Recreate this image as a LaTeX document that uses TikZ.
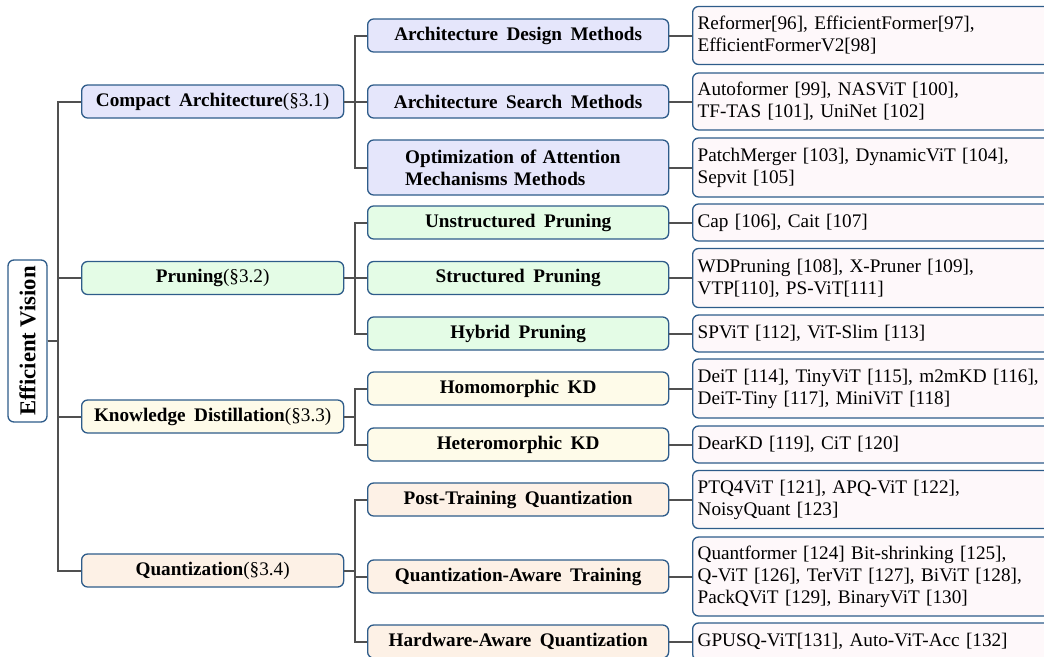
\documentclass[tikz,border=0pt]{standalone}
\usepackage{fontspec}
\setmainfont{Liberation Serif}
\usepackage{graphicx}
\definecolor{bordc}{RGB}{46,92,138}
\definecolor{connc}{RGB}{80,80,80}
\definecolor{cA}{RGB}{229,230,251}
\definecolor{cP}{RGB}{228,252,230}
\definecolor{cK}{RGB}{254,251,233}
\definecolor{cQ}{RGB}{253,241,230}
\definecolor{leafc}{RGB}{254,248,250}
\newcommand{\wsp}{\spaceskip=8.5pt plus 1pt minus 1pt\relax}
\tikzset{
  box/.style={draw=bordc, line width=1.3pt, rounded corners=6pt, inner sep=0pt},
  lone/.style={box, anchor=west, minimum width=262pt, minimum height=33pt, align=center, font=\fontsize{19.2}{22}\selectfont\wsp},
  ltwo/.style={box, anchor=west, minimum width=301pt, minimum height=33pt, align=center, font=\fontsize{19.2}{22}\selectfont\bfseries\wsp},
  leaf/.style={box, anchor=west, fill=leafc, text width=420pt, inner xsep=5pt, align=left, minimum height=37pt, font=\fontsize{19.2}{22}\selectfont},
  conn/.style={draw=connc, line width=2pt},
}
\begin{document}
\begin{tikzpicture}[x=1pt,y=-1pt]
\useasboundingbox (0,0) rectangle (1044,656);
% root
\node[box, fill=white, minimum width=39pt, minimum height=162pt] (root) at (27.5,341)
  {\rotatebox{90}{\fontsize{22.7}{26}\selectfont\bfseries Efficient Vision}};
% level 1
\node[lone, fill=cA] (ca) at (81,101.5) {\textbf{Compact Architecture}(\S3.1)};
\node[lone, fill=cP] (pr) at (81,278) {\textbf{Pruning}(\S3.2)};
\node[lone, fill=cK] (kd) at (81,416.5) {\textbf{Knowledge Distillation}(\S3.3)};
\node[lone, fill=cQ] (qu) at (81,570.5) {\textbf{Quantization}(\S3.4)};
% level 2
\node[ltwo, fill=cA] (ad) at (367,35.5) {Architecture Design Methods};
\node[ltwo, fill=cA] (as) at (367,101.5) {Architecture Search Methods};
\node[ltwo, fill=cA, minimum height=55pt, text width=226pt, align=left] (oa) at (367,167.5) {Optimization of Attention\\Mechanisms Methods};
\node[ltwo, fill=cP] (up) at (367,222.5) {Unstructured Pruning};
\node[ltwo, fill=cP] (sp) at (367,278) {Structured Pruning};
\node[ltwo, fill=cP] (hp) at (367,333.5) {Hybrid Pruning};
\node[ltwo, fill=cK] (ho) at (367,388.5) {Homomorphic KD};
\node[ltwo, fill=cK] (he) at (367,444.5) {Heteromorphic KD};
\node[ltwo, fill=cQ] (pt) at (367,499.5) {Post-Training Quantization};
\node[ltwo, fill=cQ] (qa) at (367,576.5) {Quantization-Aware Training};
\node[ltwo, fill=cQ] (hw) at (367,641.5) {Hardware-Aware Quantization};
% leaves
\node[leaf, minimum height=58pt] (lad) at (692,35.5) {Reformer[96], EfficientFormer[97],\\EfficientFormerV2[98]};
\node[leaf, minimum height=57pt] (las) at (692,101.5) {Autoformer [99], NASViT [100],\\TF-TAS [101], UniNet [102]};
\node[leaf, minimum height=59pt] (loa) at (692,167.5) {PatchMerger [103], DynamicViT [104],\\Sepvit [105]};
\node[leaf] (lup) at (692,222.5) {Cap [106], Cait [107]};
\node[leaf, minimum height=59pt] (lsp) at (692,278) {WDPruning [108], X-Pruner [109],\\VTP[110], PS-ViT[111]};
\node[leaf] (lhp) at (692,333.5) {SPViT [112], ViT-Slim [113]};
\node[leaf, minimum height=59pt] (lho) at (692,388.5) {DeiT [114], TinyViT [115], m2mKD [116],\\DeiT-Tiny [117], MiniViT [118]};
\node[leaf] (lhe) at (692,444.5) {DearKD [119], CiT [120]};
\node[leaf, minimum height=58pt] (lpt) at (692,499.5) {PTQ4ViT [121], APQ-ViT [122],\\NoisyQuant [123]};
\node[leaf, minimum height=79pt] (lqa) at (692,576.5) {Quantformer [124] Bit-shrinking [125],\\Q-ViT [126], TerViT [127], BiViT [128],\\PackQViT [129], BinaryViT [130]};
\node[leaf] (lhw) at (692,641.5) {GPUSQ-ViT[131], Auto-ViT-Acc [132]};
% connectors root -> level 1
\foreach \c in {ca,pr,kd,qu} \draw[conn] (root.east) -- ++(10,0) |- (\c.west);
% level 1 -> level 2
\foreach \c in {ad,as,oa} \draw[conn] (ca.east) -- ++(11,0) |- (\c.west);
\foreach \c in {up,sp,hp} \draw[conn] (pr.east) -- ++(11,0) |- (\c.west);
\foreach \c in {ho,he} \draw[conn] (kd.east) -- ++(11,0) |- (\c.west);
\foreach \c in {pt,qa,hw} \draw[conn] (qu.east) -- ++(11,0) |- (\c.west);
% level 2 -> leaves
\foreach \a/\b in {ad/lad,as/las,oa/loa,up/lup,sp/lsp,hp/lhp,ho/lho,he/lhe,pt/lpt,qa/lqa,hw/lhw}
  \draw[conn] (\a.east) -- (\b.west);
\end{tikzpicture}
\end{document}
